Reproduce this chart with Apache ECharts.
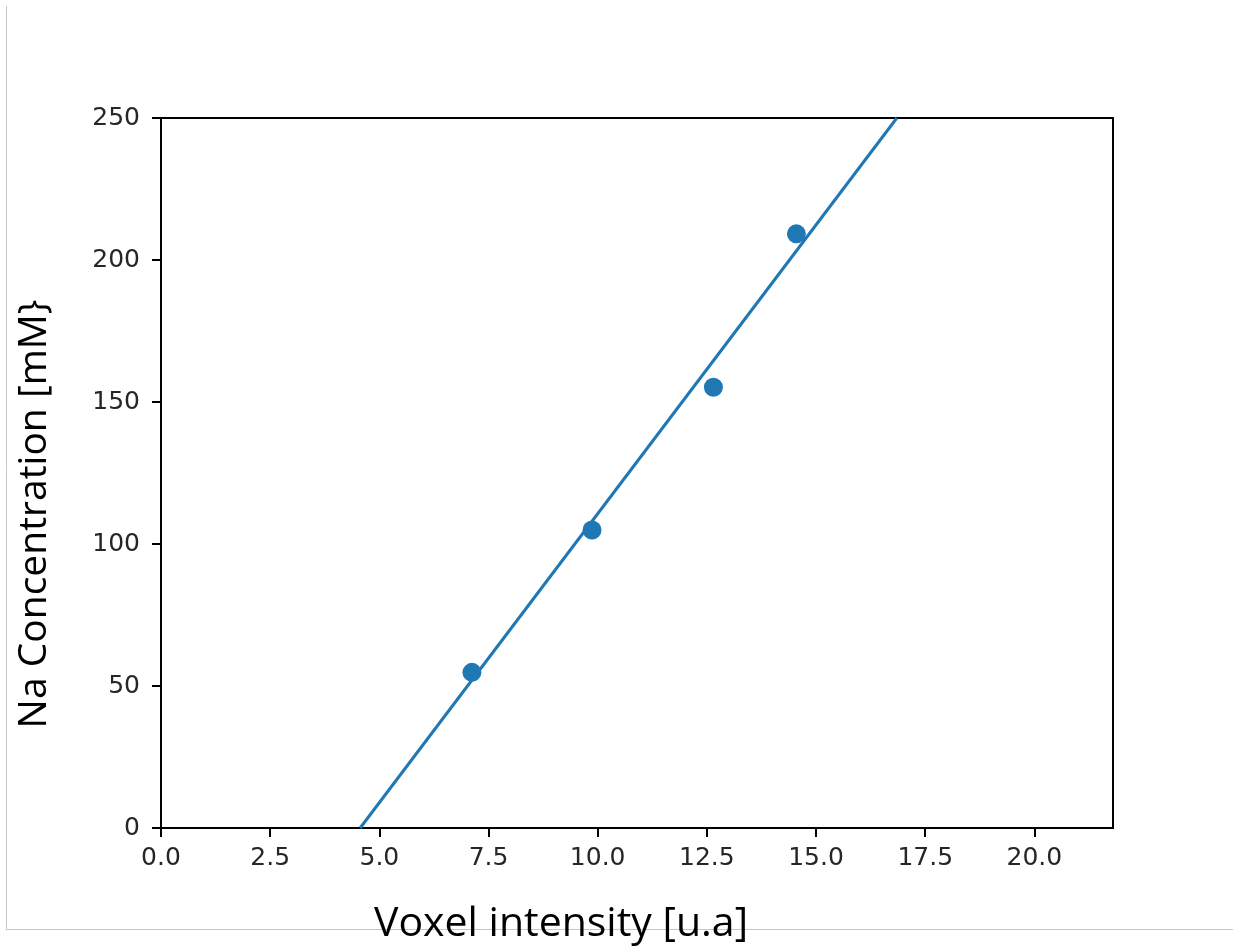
<!DOCTYPE html>
<html>
<head>
<meta charset="utf-8">
<script src="https://cdn.jsdelivr.net/npm/echarts@6/dist/echarts.min.js"></script>
<style>
html,body{margin:0;padding:0;background:#fff;}
#chart{width:1233px;height:951px;}
</style>
</head>
<body>
<div id="chart"></div>
<script>
// Measured points (voxel intensity, Na concentration)
const pointX = [7.12, 9.87, 12.65, 14.55];
const pointY = [54.8, 104.9, 155.2, 209.2];
// Fitted line endpoints
const fitX = [4.56, 16.85];
const fitY = [0, 250];
// Tick values
const xTicks = [0, 2.5, 5, 7.5, 10, 12.5, 15, 17.5, 20];
const yTicks = [0, 50, 100, 150, 200, 250];
const xTitle = 'Voxel intensity [u.a]';
const yTitle = 'Na Concentration [mM}';

const chart = echarts.init(document.getElementById('chart'), null, {renderer: 'canvas'});
const blue = '#1f77b4';
const tickFont = {fontFamily: 'DejaVu Sans', fontSize: 25, color: '#262626'};

chart.setOption({
  animation: false,
  backgroundColor: '#fff',
  grid: {left: 161, right: 120, top: 118, bottom: 123, show: true, borderColor: '#000', borderWidth: 2, backgroundColor: 'transparent'},
  xAxis: {
    type: 'value', min: 0, max: 21.8, interval: 2.5,
    splitLine: {show: false},
    axisLine: {show: true, onZero: false, lineStyle: {color: '#000', width: 2}},
    axisTick: {show: true, length: 9, lineStyle: {color: '#000', width: 2}, customValues: xTicks},
    axisLabel: Object.assign({margin: 18, customValues: xTicks, formatter: v => v.toFixed(1)}, tickFont)
  },
  yAxis: {
    type: 'value', min: 0, max: 250, interval: 50,
    splitLine: {show: false},
    axisLine: {show: true, onZero: false, lineStyle: {color: '#000', width: 2}},
    axisTick: {show: true, length: 9, lineStyle: {color: '#000', width: 2}, customValues: yTicks},
    axisLabel: Object.assign({margin: 21, customValues: yTicks}, tickFont)
  },
  series: [
    {
      type: 'line',
      data: fitX.map((x, i) => [x, fitY[i]]),
      showSymbol: false,
      symbol: 'none',
      lineStyle: {color: blue, width: 3},
      clip: true,
      z: 2
    },
    {
      type: 'scatter',
      data: pointX.map((x, i) => [x, pointY[i]]),
      symbol: 'circle',
      symbolSize: 19,
      itemStyle: {color: blue, opacity: 1},
      z: 3
    }
  ],
  graphic: [
    {type: 'line', shape: {x1: 6.5, y1: 6, x2: 6.5, y2: 929.5}, style: {stroke: '#c6c6c6', lineWidth: 1}, z: 1},
    {type: 'line', shape: {x1: 6, y1: 929.5, x2: 1233, y2: 929.5}, style: {stroke: '#c6c6c6', lineWidth: 1}, z: 1},
    {type: 'text', x: 561, y: 924, z: 10,
      style: {text: xTitle, fontFamily: 'Open Sans', fontSize: 41, fill: '#000', align: 'center', verticalAlign: 'middle'}},
    {type: 'text', x: 35, y: 514, rotation: Math.PI / 2, z: 10,
      style: {text: yTitle, fontFamily: 'Open Sans', fontSize: 39, fill: '#000', align: 'center', verticalAlign: 'middle'}}
  ]
});
</script>
</body>
</html>
